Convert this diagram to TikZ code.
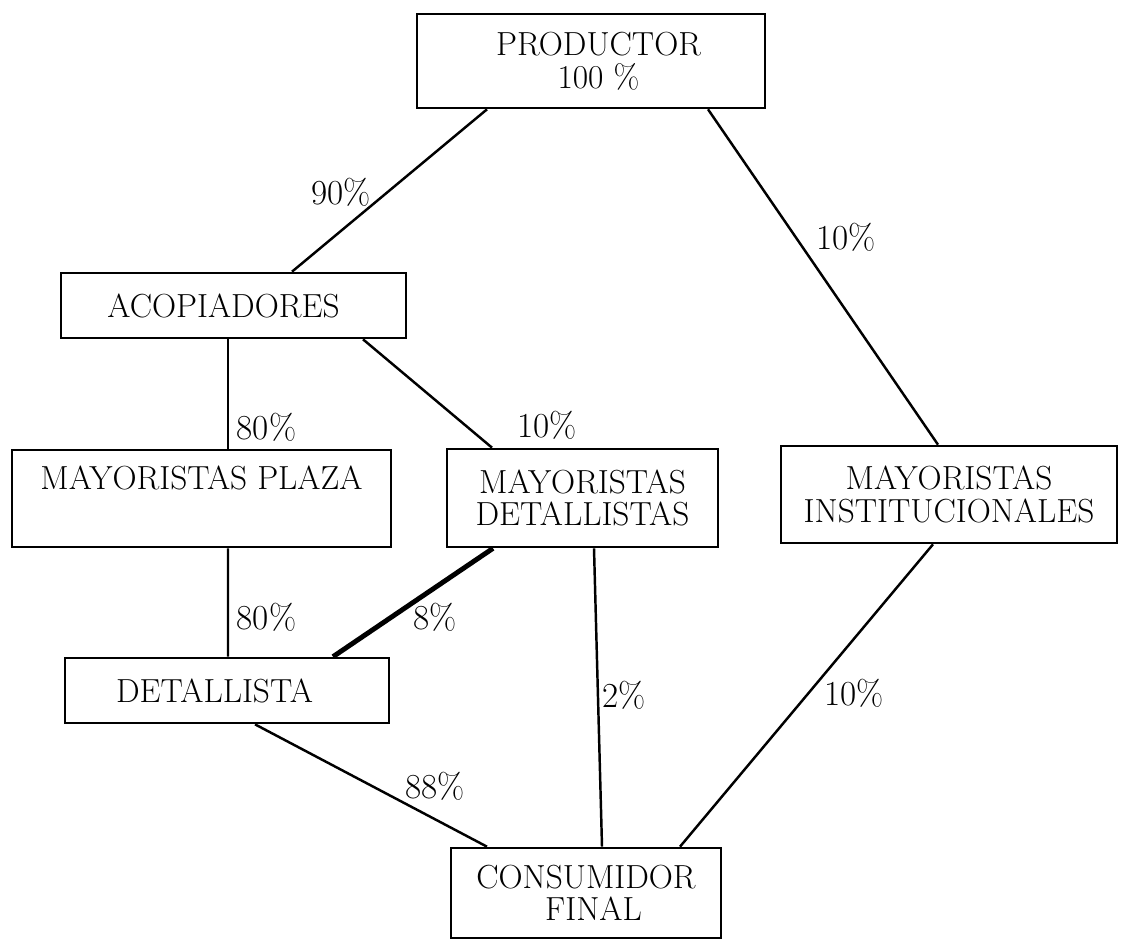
\documentclass[tikz,border=0pt]{standalone}
\usepackage{fontspec}
\newcommand{\boxfont}{\fontsize{19}{18.5}\selectfont}

\begin{document}
\begin{tikzpicture}[
  box/.style={draw, line width=1.5pt, align=center, inner sep=0pt, font=\boxfont},
  pct/.style={font=\fontsize{20}{20}\selectfont, inner sep=0pt},
  link/.style={line width=1.4pt}]

\useasboundingbox (0,0) rectangle (22.44,-18.86);

% Entities
\node[box, minimum width=6.96cm, minimum height=1.88cm] (prod) at (11.82,-1.22) {\hspace*{0.3cm}PRODUCTOR\\\hspace*{0.3cm}100 \%};
\node[box, minimum width=6.9cm, minimum height=1.3cm] (acop) at (4.67,-6.11) {ACOPIADORES\hspace*{0.4cm}};
\node[box, minimum width=7.58cm, minimum height=1.94cm] (mplaza) at (4.03,-9.97) {MAYORISTAS PLAZA\\\strut};
\node[box, minimum width=5.42cm, minimum height=1.96cm] (mdet) at (11.65,-9.96) {MAYORISTAS\\DETALLISTAS};
\node[box, minimum width=6.72cm, minimum height=1.94cm] (minst) at (18.98,-9.89) {MAYORISTAS\\INSTITUCIONALES};
\node[box, minimum width=6.48cm, minimum height=1.3cm] (detal) at (4.54,-13.81) {DETALLISTA\hspace*{0.5cm}};
\node[box, minimum width=5.4cm, minimum height=1.8cm] (cons) at (11.72,-17.86) {CONSUMIDOR\\\hspace*{0.3cm}FINAL};

% Channels
\draw[link] ([xshift=-2.08cm]prod.south) -- ([xshift=1.17cm]acop.north);
\draw[link] ([xshift=2.34cm]prod.south) -- ([xshift=-0.22cm]minst.north);
\draw[link] ([xshift=-0.11cm]acop.south) -- ([xshift=0.53cm]mplaza.north);
\draw[link] ([xshift=2.59cm]acop.south) -- ([xshift=-1.81cm]mdet.north);
\draw[link] ([xshift=0.53cm]mplaza.south) -- ([xshift=0.02cm]detal.north);
\draw[line width=2.8pt] ([xshift=-1.79cm]mdet.south) -- ([xshift=2.12cm]detal.north);
\draw[link] ([xshift=0.23cm]mdet.south) -- ([xshift=0.32cm]cons.north);
\draw[link] ([xshift=-0.32cm]minst.south) -- ([xshift=1.88cm]cons.north);
\draw[link] ([xshift=0.56cm]detal.south) -- ([xshift=-1.98cm]cons.north);

% Shares
\node[pct] (l90) at (6.82,-3.84) {90\%};
\node[pct] (l10a) at (16.92,-4.74) {10\%};
\node[pct] (l80a) at (5.33,-8.54) {80\%};
\node[pct] (l10b) at (10.94,-8.5) {10\%};
\node[pct] (l80b) at (5.33,-12.34) {80\%};
\node[pct] (l8) at (8.7,-12.34) {8\%};
\node[pct] (l2) at (12.48,-13.9) {2\%};
\node[pct] (l10c) at (17.08,-13.86) {10\%};
\node[pct] (l88) at (8.7,-15.72) {88\%};

\end{tikzpicture}
\end{document}
